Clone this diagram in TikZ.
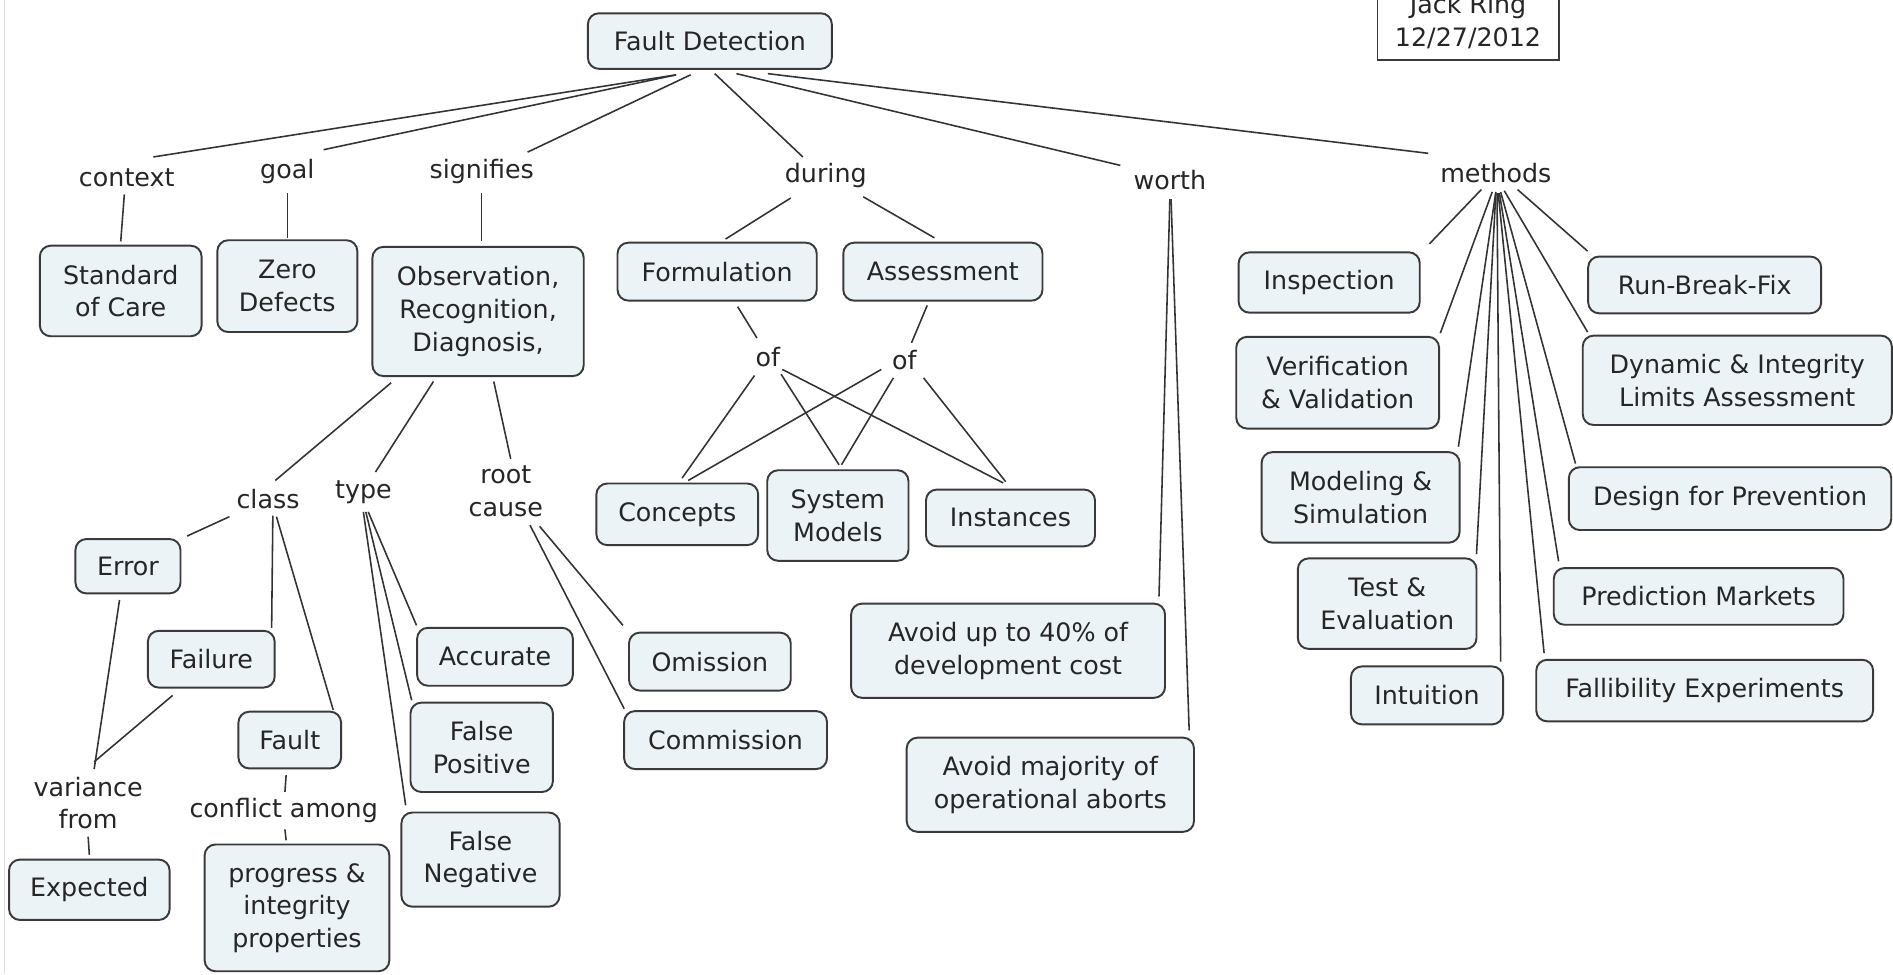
\documentclass[tikz,border=0pt]{standalone}
\usepackage{fontspec}
\setmainfont{DejaVu Sans}
\definecolor{cfill}{HTML}{ECF3F6}
\definecolor{cline}{HTML}{3A3A3A}
\definecolor{lk}{HTML}{333333}
\tikzset{
  concept/.style={draw=cline, fill=cfill, line width=1.6pt, rounded corners=9pt,
    align=center, inner sep=0pt, font=\fontsize{21}{27}\selectfont, text=black!85},
  lbl/.style={inner sep=0pt, align=center, font=\fontsize{21}{27}\selectfont, text=black!85},
  conn/.style={draw=lk, line width=1.3pt},
}
% connector between two nodes, each end given as an offset from the node centre
\newcommand\cn[6]{\draw[conn] ([shift={(#2,#3)}]#1.center) -- ([shift={(#5,#6)}]#4.center);}
\begin{document}
\begin{tikzpicture}[x=1pt,y=-1pt]
\useasboundingbox (0,0) rectangle (1568,807);
\fill[white] (0,0) rectangle (1568,807);
\draw[black!12, line width=1pt] (4,0) -- (4,807);

% author box
\node[draw=cline, line width=1.5pt, minimum width=150, minimum height=64, inner sep=0pt,
      align=center, font=\fontsize{21}{27}\selectfont, text=black!85] (author) at (1216,18) {Jack Ring\\12/27/2012};

% concepts
\node[concept, minimum width=202, minimum height=46] (fd) at (588,34) {Fault Detection};
\node[concept, minimum width=134, minimum height=75] (soc) at (100,241) {Standard\\of Care};
\node[concept, minimum width=116, minimum height=76] (zd) at (238,237) {Zero\\Defects};
\node[concept, minimum width=175, minimum height=107] (ord) at (396,258) {Observation,\\Recognition,\\Diagnosis,};
\node[concept, minimum width=165, minimum height=48] (form) at (594,225) {Formulation};
\node[concept, minimum width=165, minimum height=48] (assess) at (781,225) {Assessment};
\node[concept, minimum width=134, minimum height=51] (concepts) at (561,426) {Concepts};
\node[concept, minimum width=117, minimum height=75] (sysm) at (694,427) {System\\Models};
\node[concept, minimum width=140, minimum height=47] (inst) at (837,429) {Instances};
\node[concept, minimum width=87, minimum height=45] (err) at (106,469) {Error};
\node[concept, minimum width=105, minimum height=47] (fail) at (175,546) {Failure};
\node[concept, minimum width=85, minimum height=47] (fault) at (240,613) {Fault};
\node[concept, minimum width=133, minimum height=50] (expct) at (74,737) {Expected};
\node[concept, minimum width=153, minimum height=105] (pip) at (246,752) {progress \&\\integrity\\properties};
\node[concept, minimum width=129, minimum height=48] (acc) at (410,544) {Accurate};
\node[concept, minimum width=118, minimum height=74] (fp) at (399,619) {False\\Positive};
\node[concept, minimum width=131, minimum height=78] (fn) at (398,712) {False\\Negative};
\node[concept, minimum width=134, minimum height=48] (omis) at (588,548) {Omission};
\node[concept, minimum width=168, minimum height=48] (comm) at (601,613) {Commission};
\node[concept, minimum width=260, minimum height=78] (dev) at (835,539) {Avoid up to 40\% of\\development cost};
\node[concept, minimum width=238, minimum height=78] (abort) at (870,650) {Avoid majority of\\operational aborts};
\node[concept, minimum width=150, minimum height=50] (insp) at (1101,234) {Inspection};
\node[concept, minimum width=193, minimum height=47] (rbf) at (1412,236) {Run-Break-Fix};
\node[concept, minimum width=168, minimum height=76] (vv) at (1108,317) {Verification\\\& Validation};
\node[concept, minimum width=256, minimum height=74] (dil) at (1439,315) {Dynamic \& Integrity\\Limits Assessment};
\node[concept, minimum width=164, minimum height=75] (ms) at (1127,412) {Modeling \&\\Simulation};
\node[concept, minimum width=267, minimum height=52] (dfp) at (1433,413) {Design for Prevention};
\node[concept, minimum width=148, minimum height=75] (te) at (1149,500) {Test \&\\Evaluation};
\node[concept, minimum width=240, minimum height=47] (pm) at (1407,494) {Prediction Markets};
\node[concept, minimum width=126, minimum height=48] (intu) at (1182,576) {Intuition};
\node[concept, minimum width=279, minimum height=51] (fe) at (1412,572) {Fallibility Experiments};

% linking phrases
\node[lbl] (context) at (105,147) {context};
\node[lbl] (goal) at (238,142) {goal};
\node[lbl] (signifies) at (399,142) {signifies};
\node[lbl] (during) at (684,145) {during};
\node[lbl] (worth) at (969,149) {worth};
\node[lbl] (methods) at (1239,143) {methods};
\node[lbl] (of1) at (636,296) {of};
\node[lbl] (of2) at (749,298) {of};
\node[lbl] (class) at (222,413) {class};
\node[lbl] (type) at (301,408) {type};
\node[lbl] (rootcause) at (419,407) {root\\cause};
\node[lbl] (variance) at (73,665) {variance\\from};
\node[lbl] (conflict) at (235,671) {conflict among};

% connectors from the root concept
\cn{fd}{-28}{28}{context}{22}{-17}
\cn{fd}{-28}{28}{goal}{30}{-18}
\cn{fd}{-16}{28}{signifies}{38}{-16}
\cn{fd}{4}{27}{during}{-19}{-15}
\cn{fd}{22}{27}{worth}{-41}{-12}
\cn{fd}{48}{27}{methods}{-56}{-16}

% first level
\cn{context}{-2}{14}{soc}{0}{-41}
\cn{goal}{0}{18}{zd}{0}{-40}
\cn{signifies}{0}{18}{ord}{3}{-58}
\cn{during}{-29}{19}{form}{7}{-27}
\cn{during}{31}{18}{assess}{-7}{-28}

% formulation / assessment of ...
\cn{form}{17}{29}{of1}{-9}{-16}
\cn{assess}{-13}{28}{of2}{6}{-14}
\cn{of1}{-11}{15}{concepts}{4}{-30}
\cn{of1}{11}{14}{sysm}{1}{-42}
\cn{of1}{12}{10}{inst}{-6}{-29}
\cn{of2}{-19}{8}{concepts}{9}{-28}
\cn{of2}{-9}{15}{sysm}{3}{-42}
\cn{of2}{16}{15}{inst}{-4}{-30}

% observation branch
\cn{ord}{-72}{59}{class}{6}{-15}
\cn{ord}{-37}{58}{type}{10}{-17}
\cn{ord}{13}{58}{rootcause}{4}{-27}
\cn{class}{-32}{15}{err}{49}{-25}
\cn{class}{4}{14}{fail}{50}{-26}
\cn{class}{7}{15}{fault}{36}{-25}
\cn{type}{4}{16}{acc}{-65}{-26}
\cn{type}{2}{16}{fp}{-58}{-39}
\cn{type}{0}{16}{fn}{-62}{-45}
\cn{rootcause}{28}{29}{omis}{-72}{-30}
\cn{rootcause}{20}{28}{comm}{-84}{-26}
\cn{err}{-7}{28}{variance}{5}{-28}
\cn{fail}{-32}{30}{variance}{5}{-34}
\cn{fault}{-3}{29}{conflict}{1}{-15}
\cn{conflict}{1}{16}{pip}{-9}{-56}
\cn{variance}{0}{28}{expct}{0}{-29}

% worth
\cn{worth}{0}{16}{dev}{125}{-45}
\cn{worth}{1}{16}{abort}{115}{-45}

% methods fan
\cn{methods}{-12}{14}{insp}{83}{-32}
\cn{methods}{-3}{16}{vv}{85}{-41}
\cn{methods}{0}{16}{ms}{81}{-42}
\cn{methods}{0}{17}{te}{74}{-41}
\cn{methods}{1}{17}{intu}{61}{-28}
\cn{methods}{2}{17}{fe}{-133}{-31}
\cn{methods}{3}{17}{pm}{-116}{-29}
\cn{methods}{4}{16}{dfp}{-128}{-29}
\cn{methods}{7}{15}{dil}{-124}{-40}
\cn{methods}{18}{14}{rbf}{-97}{-28}
\end{tikzpicture}
\end{document}
